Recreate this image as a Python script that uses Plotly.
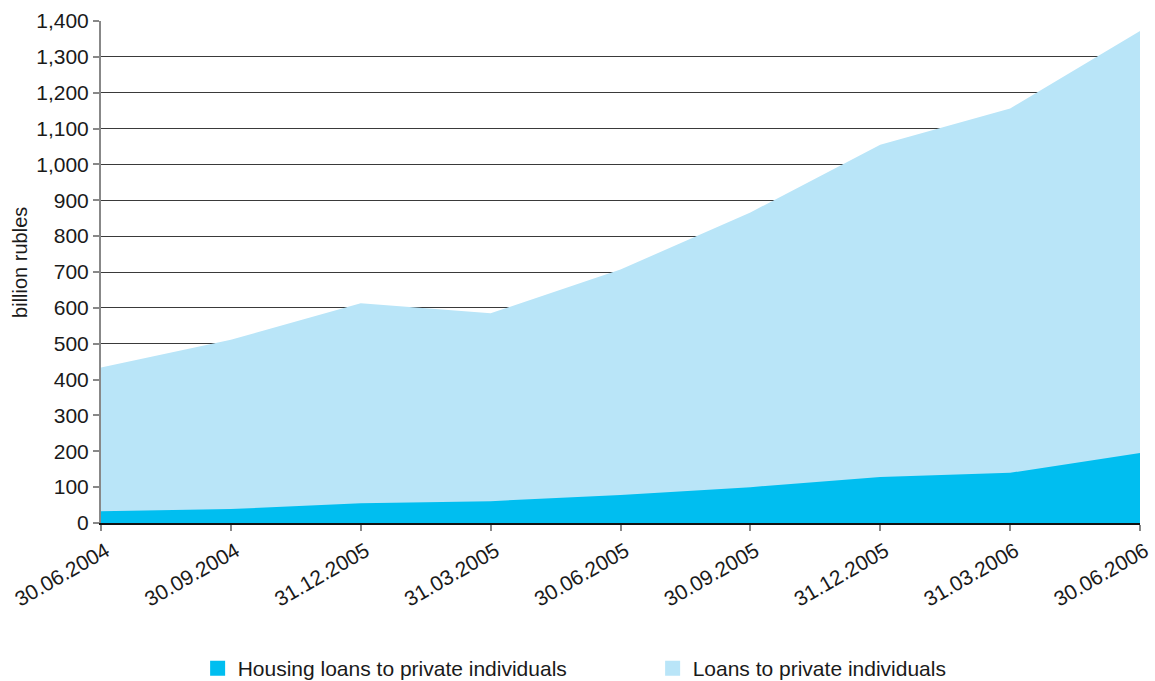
import plotly.graph_objects as go

dates = ["30.06.2004", "30.09.2004", "31.12.2005", "31.03.2005", "30.06.2005",
         "30.09.2005", "31.12.2005", "31.03.2006", "30.06.2006"]
loans_total = [434, 511, 613, 585, 707, 866, 1055, 1156, 1372]
housing_loans = [33, 39, 55, 61, 78, 100, 128, 140, 195]

LIGHT = "#B9E5F8"
DARK = "#00BEF0"
FONT = "Liberation Sans, Arial, sans-serif"

xpos = list(range(len(dates)))

fig = go.Figure()
fig.add_trace(go.Scatter(x=xpos, y=loans_total, mode="lines", line=dict(width=0, color=LIGHT),
                         fill="tozeroy", fillcolor=LIGHT, showlegend=False, hoverinfo="skip"))
fig.add_trace(go.Scatter(x=xpos, y=housing_loans, mode="lines", line=dict(width=0, color=DARK),
                         fill="tozeroy", fillcolor=DARK, showlegend=False, hoverinfo="skip"))
# legend entries
fig.add_trace(go.Scatter(x=[None], y=[None], mode="markers", name="Housing loans to private individuals",
                         marker=dict(symbol="square", size=15, color=DARK)))
fig.add_trace(go.Scatter(x=[None], y=[None], mode="markers", name="Loans to private individuals",
                         marker=dict(symbol="square", size=15, color=LIGHT)))

fig.update_layout(
    width=1155, height=681,
    margin=dict(l=101, r=15, t=21, b=158, autoexpand=False),
    plot_bgcolor="white", paper_bgcolor="white",
    font=dict(family=FONT, size=21, color="#1a1a1a"),
    legend=dict(orientation="h", x=0.093, xanchor="left", y=-0.29, yanchor="middle",
                font=dict(size=21), entrywidth=410, itemwidth=30, tracegroupgap=0),
    annotations=[dict(text="billion rubles", xref="paper", yref="paper", x=-0.078, y=0.52,
                      xanchor="center", yanchor="middle", textangle=-90, showarrow=False,
                      font=dict(size=20))],
)
fig.update_xaxes(range=[0, 8], tickvals=xpos, ticktext=dates, tickangle=-30,
                 showgrid=False, zeroline=False, showline=True, linecolor="#111111", linewidth=1.5,
                 ticks="outside", ticklen=6, tickcolor="#888888", tickwidth=1.5,
                 tickfont=dict(size=21), layer="above traces", ticklabelshift=5,
                 ticklabeloverflow="allow")
fig.update_yaxes(range=[0, 1400], dtick=100, tickformat=",d",
                 showgrid=True, gridcolor="#3a3a3a", gridwidth=1, zeroline=False,
                 showline=True, linecolor="#888888", linewidth=2,
                 ticks="outside", ticklen=6, tickcolor="#888888", tickwidth=1.5,
                 tickfont=dict(size=21), layer="below traces")

fig.write_html("out.html", config={"displayModeBar": False},
               post_script="document.body.style.margin='0';")
